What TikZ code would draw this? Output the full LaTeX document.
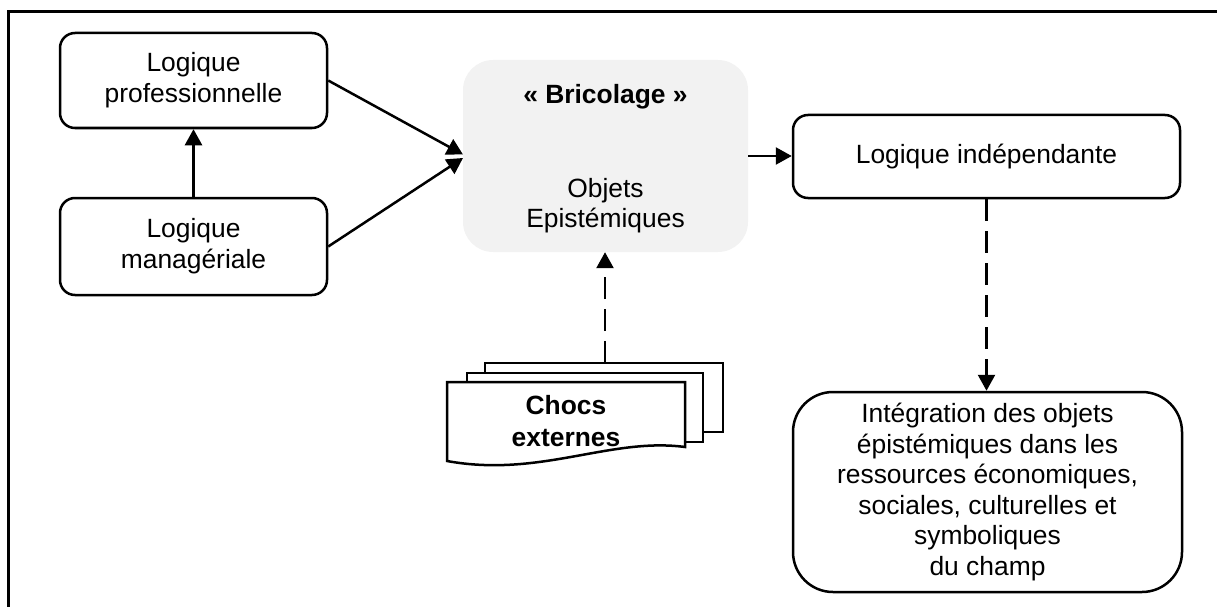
\documentclass[tikz,border=0pt]{standalone}
\usepackage{fontspec}
\setmainfont{Liberation Sans}
\usetikzlibrary{arrows.meta}
\begin{document}
\begin{tikzpicture}[x=1pt,y=-1pt,
  txt/.style={align=center,inner sep=0pt,font=\fontsize{26.4}{31}\selectfont},
  box/.style={txt,draw,line width=2.5pt,rounded corners=15pt},
  arr/.style={line width=2.5pt,-{Triangle[length=16pt,width=17pt]}},
  dsh/.style={arr,dash pattern=on 22pt off 10pt},
  docline/.style={line width=2.5pt,fill=white,line join=miter}]
\useasboundingbox (0,0) rectangle (1217,607);
\draw[line width=3pt] (8,11.5) rectangle (1240,630);

\node[box,minimum width=267pt,minimum height=95pt] (prof) at (193.5,80.5) {Logique\\professionnelle};
\node[box,minimum width=267pt,minimum height=97pt] (mana) at (193.5,246.5) {Logique\\managériale};
\node[txt,fill=black!5,rounded corners=30pt,minimum width=285pt,minimum height=192pt] (brico) at (605.5,156) {};
\node[txt,font=\fontsize{26.4}{31}\selectfont\bfseries] (bricot) at (605.5,97) {« Bricolage »};
\node[txt,font=\fontsize{26.4}{30}\selectfont] (objt) at (605.5,206) {Objets\\Epistémiques};
\node[box,minimum width=387pt,minimum height=83pt] (indep) at (986.5,156.5) {Logique indépendante};
\node[box,rounded corners=40pt,minimum width=389pt,minimum height=200pt,font=\fontsize{26.4}{30.6}\selectfont] (integ) at (987.5,492) {Intégration des objets\\épistémiques dans les\\ressources économiques,\\sociales, culturelles et\\symboliques\\du champ};

% multi-document
\draw[docline] (485,363) rectangle (723,432);
\draw[docline] (467,373) rectangle (703,442);
\draw[docline] (447,382) -- (685,382) -- (685,447) .. controls (610,437) and (540,478) .. (447,461) -- cycle;
\node[txt,font=\fontsize{26.4}{32}\selectfont\bfseries] (chocs) at (566,421) {Chocs\\externes};
\coordinate (dtop) at (605,363);

\coordinate (t1) at (463,154.5);
\coordinate (t2) at (463,158);
\draw[arr] (mana.north) -- (prof.south);
\draw[arr] (prof.east) -- (t1);
\draw[arr] (mana.east) -- (t2);
\draw[arr] (brico.east) -- (brico.east -| indep.west);
\draw[dsh] (indep.south) -- (indep.south |- integ.north);
\draw[dsh] (dtop) -- (dtop |- brico.south);
\end{tikzpicture}
\end{document}
